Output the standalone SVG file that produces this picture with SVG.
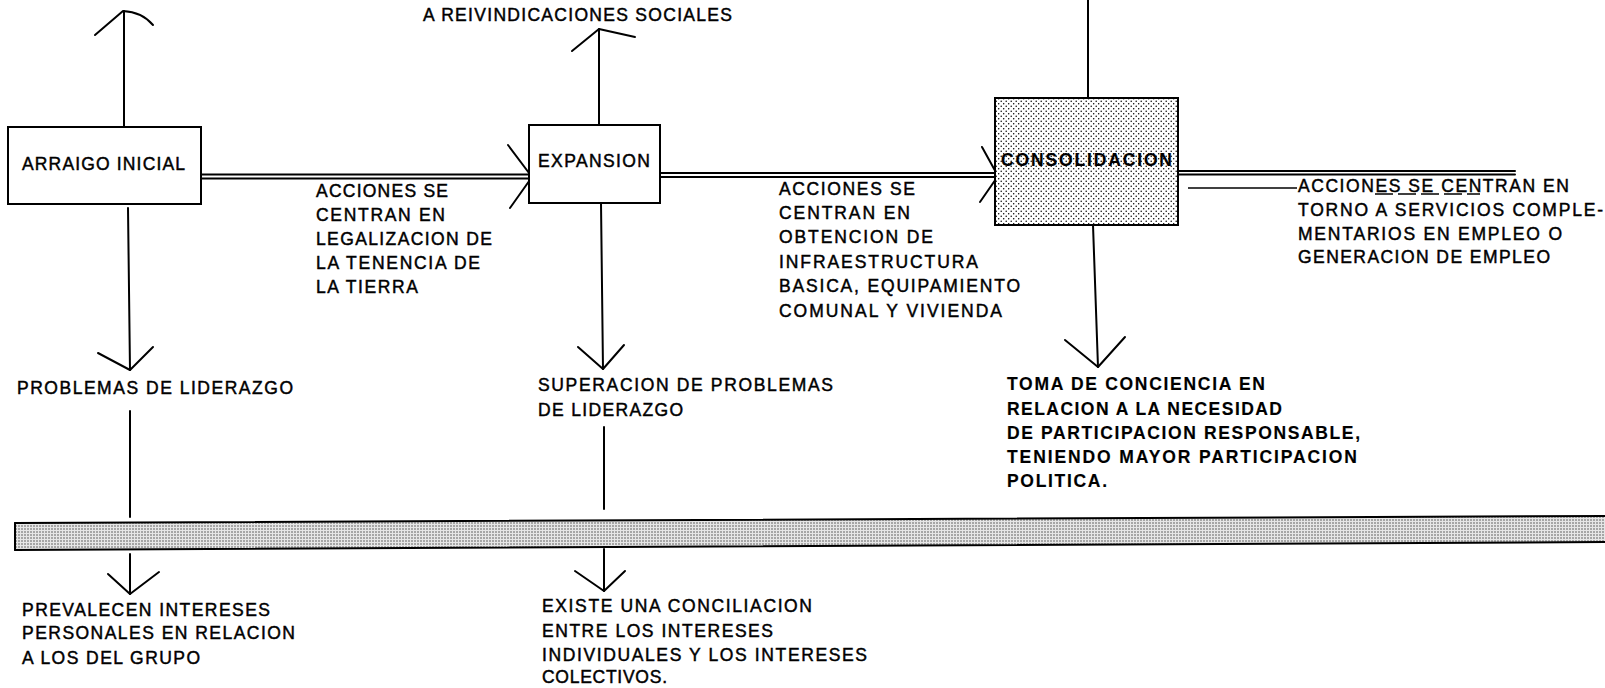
<svg xmlns="http://www.w3.org/2000/svg" width="1605" height="688" viewBox="0 0 1605 688">
  <style>
    .t { font-family: "Liberation Sans", Arial, sans-serif; font-size: 17.5px; fill: #000; stroke: #000; stroke-width: 0.45; }
    .b { font-weight: bold; stroke-width: 0.15; }
    .ln { stroke: #000; stroke-width: 2; fill: none; stroke-linecap: round; stroke-linejoin: round; }
    .thin { stroke: #000; stroke-width: 1.3; fill: none; }
    .box { fill: #fff; stroke: #000; stroke-width: 2; }
  </style>
  <defs>
    <pattern id="dots" width="5" height="5" patternUnits="userSpaceOnUse">
      <rect width="5" height="5" fill="#fff"/>
      <circle cx="1.2" cy="1.2" r="0.75" fill="#000"/>
      <circle cx="3.7" cy="3.7" r="0.75" fill="#000"/>
    </pattern>
    <pattern id="band" width="3" height="3" patternUnits="userSpaceOnUse">
      <rect width="3" height="3" fill="#e6e6e6"/>
      <circle cx="1" cy="1" r="0.8" fill="#555"/>
    </pattern>
  </defs>

  <rect width="1605" height="688" fill="#fff"/>

  <g id="band-line">
    <polygon points="15,523 1605,516 1605,542 15,550" fill="url(#band)"/>
    <line class="ln" x1="15" y1="523" x2="1605" y2="516"/>
    <line class="ln" x1="15" y1="550" x2="1605" y2="542"/>
    <line class="ln" x1="15" y1="523" x2="15" y2="550"/>
  </g>

  <g id="connectors">
    <!-- up from ARRAIGO -->
    <line class="ln" x1="124" y1="127" x2="124" y2="11"/>
    <path class="ln" d="M95,35 L123,11 Q142,12 153,25"/>
    <!-- down from ARRAIGO -->
    <line class="ln" x1="128" y1="208" x2="130" y2="370"/>
    <polyline class="ln" points="98,353 130,370 153,347"/>
    <line class="ln" x1="130" y1="411" x2="130" y2="517"/>
    <line class="ln" x1="130" y1="554" x2="130" y2="594"/>
    <polyline class="ln" points="108,574 130,594 159,572"/>
    <!-- ARRAIGO -> EXPANSION -->
    <line class="ln" x1="201" y1="174.5" x2="531" y2="174.5"/>
    <line class="ln" x1="201" y1="178.5" x2="531" y2="178.5"/>
    <polyline class="ln" points="508,145 532,177 510,208"/>
    <!-- up from EXPANSION -->
    <line class="ln" x1="599" y1="125" x2="599" y2="29"/>
    <polyline class="ln" points="572,51 599,29 635,37"/>
    <!-- down from EXPANSION -->
    <line class="ln" x1="601" y1="203" x2="603" y2="369"/>
    <polyline class="ln" points="578,347 603,369 624,345"/>
    <line class="ln" x1="604" y1="427" x2="604" y2="509"/>
    <line class="ln" x1="604" y1="549" x2="604" y2="591"/>
    <polyline class="ln" points="575,571 604,591 625,571"/>
    <!-- EXPANSION -> CONSOLIDACION -->
    <line class="ln" x1="660" y1="173" x2="996" y2="173"/>
    <line class="ln" x1="660" y1="177" x2="996" y2="177"/>
    <polyline class="ln" points="982,147 998,176 980,202"/>
    <!-- up from CONSOLIDACION -->
    <line class="ln" x1="1088" y1="98" x2="1088" y2="0"/>
    <!-- down from CONSOLIDACION -->
    <line class="ln" x1="1093" y1="225" x2="1098" y2="367"/>
    <polyline class="ln" points="1065,340 1098,367 1125,337"/>
    <!-- right from CONSOLIDACION -->
    <line class="ln" x1="1178" y1="171" x2="1515" y2="171"/>
    <line class="ln" x1="1178" y1="174.5" x2="1515" y2="174.5"/>
    <line class="thin" x1="1188" y1="188" x2="1297" y2="188"/>
    <line class="thin" x1="1375" y1="194" x2="1480" y2="194" stroke-dasharray="18 5"/>
  </g>

  <g id="node-arraigo">
    <rect class="box" x="8" y="127" width="193" height="77"/>
    <text class="t" x="22" y="170" textLength="163" lengthAdjust="spacing">ARRAIGO INICIAL</text>
  </g>

  <g id="node-expansion">
    <rect class="box" x="529" y="125" width="131" height="78"/>
    <text class="t" x="538" y="167" textLength="112" lengthAdjust="spacing">EXPANSION</text>
  </g>

  <g id="node-consolidacion">
    <rect x="995" y="98" width="183" height="127" fill="url(#dots)" stroke="#000" stroke-width="2"/>
    <text class="t b" x="1001" y="166" textLength="171" lengthAdjust="spacing">CONSOLIDACION</text>
  </g>

  <g id="label-reivindicaciones">
    <text class="t" x="423" y="21" textLength="309" lengthAdjust="spacing">A REIVINDICACIONES SOCIALES</text>
  </g>

  <g id="label-acciones-1">
    <text class="t" x="316" y="197" textLength="132" lengthAdjust="spacing">ACCIONES SE</text>
    <text class="t" x="316" y="221" textLength="129" lengthAdjust="spacing">CENTRAN EN</text>
    <text class="t" x="316" y="245" textLength="176" lengthAdjust="spacing">LEGALIZACION DE</text>
    <text class="t" x="316" y="269" textLength="164" lengthAdjust="spacing">LA TENENCIA DE</text>
    <text class="t" x="316" y="293" textLength="102" lengthAdjust="spacing">LA TIERRA</text>
  </g>

  <g id="label-acciones-2">
    <text class="t" x="779" y="195" textLength="136" lengthAdjust="spacing">ACCIONES SE</text>
    <text class="t" x="779" y="219" textLength="131" lengthAdjust="spacing">CENTRAN EN</text>
    <text class="t" x="779" y="243" textLength="154" lengthAdjust="spacing">OBTENCION DE</text>
    <text class="t" x="779" y="268" textLength="199" lengthAdjust="spacing">INFRAESTRUCTURA</text>
    <text class="t" x="779" y="292" textLength="241" lengthAdjust="spacing">BASICA, EQUIPAMIENTO</text>
    <text class="t" x="779" y="317" textLength="223" lengthAdjust="spacing">COMUNAL Y VIVIENDA</text>
  </g>

  <g id="label-acciones-3">
    <text class="t" x="1298" y="192" textLength="271" lengthAdjust="spacing">ACCIONES SE CENTRAN EN</text>
    <text class="t" x="1298" y="216" textLength="305" lengthAdjust="spacing">TORNO A SERVICIOS COMPLE-</text>
    <text class="t" x="1298" y="240" textLength="264" lengthAdjust="spacing">MENTARIOS EN EMPLEO O</text>
    <text class="t" x="1298" y="263" textLength="252" lengthAdjust="spacing">GENERACION DE EMPLEO</text>
  </g>

  <g id="label-problemas">
    <text class="t" x="17" y="394" textLength="276" lengthAdjust="spacing">PROBLEMAS DE LIDERAZGO</text>
  </g>

  <g id="label-superacion">
    <text class="t" x="538" y="391" textLength="295" lengthAdjust="spacing">SUPERACION DE PROBLEMAS</text>
    <text class="t" x="538" y="416" textLength="145" lengthAdjust="spacing">DE LIDERAZGO</text>
  </g>

  <g id="label-toma">
    <text class="t b" x="1007" y="390" textLength="258" lengthAdjust="spacing">TOMA DE CONCIENCIA EN</text>
    <text class="t b" x="1007" y="415" textLength="275" lengthAdjust="spacing">RELACION A LA NECESIDAD</text>
    <text class="t b" x="1007" y="439" textLength="353" lengthAdjust="spacing">DE PARTICIPACION RESPONSABLE,</text>
    <text class="t b" x="1007" y="463" textLength="350" lengthAdjust="spacing">TENIENDO MAYOR PARTICIPACION</text>
    <text class="t b" x="1007" y="487" textLength="100" lengthAdjust="spacing">POLITICA.</text>
  </g>

  <g id="label-prevalecen">
    <text class="t" x="22" y="616" textLength="248" lengthAdjust="spacing">PREVALECEN INTERESES</text>
    <text class="t" x="22" y="639" textLength="273" lengthAdjust="spacing">PERSONALES EN RELACION</text>
    <text class="t" x="22" y="664" textLength="178" lengthAdjust="spacing">A LOS DEL GRUPO</text>
  </g>

  <g id="label-existe">
    <text class="t" x="542" y="612" textLength="270" lengthAdjust="spacing">EXISTE UNA CONCILIACION</text>
    <text class="t" x="542" y="637" textLength="231" lengthAdjust="spacing">ENTRE LOS INTERESES</text>
    <text class="t" x="542" y="661" textLength="325" lengthAdjust="spacing">INDIVIDUALES Y LOS INTERESES</text>
    <text class="t" x="542" y="683" textLength="125" lengthAdjust="spacing">COLECTIVOS.</text>
  </g>
</svg>
